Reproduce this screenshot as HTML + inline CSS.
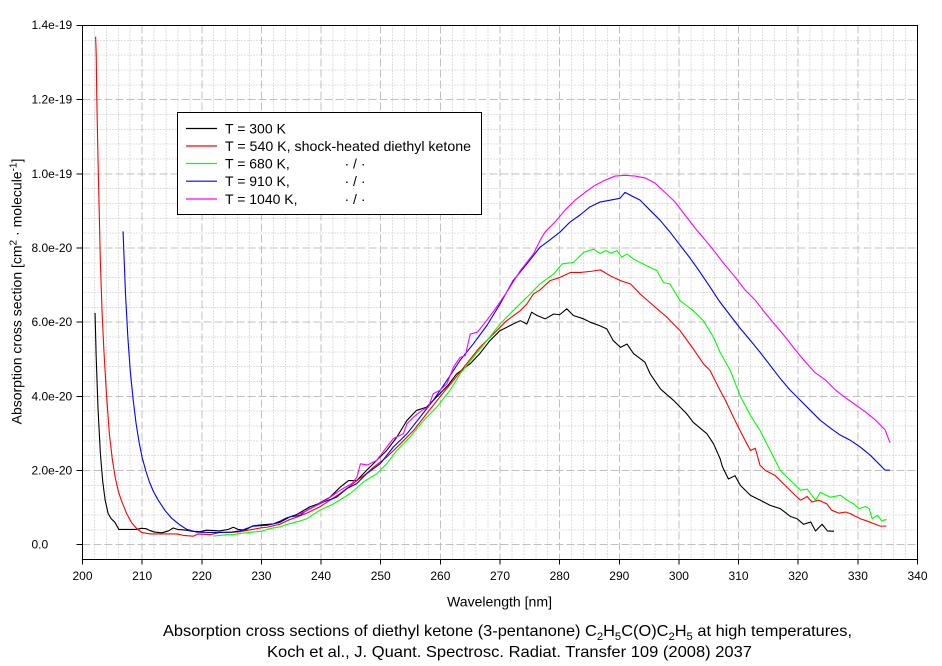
<!DOCTYPE html>
<html>
<head>
<meta charset="utf-8">
<style>
html,body{margin:0;padding:0;background:#fff;}
svg{display:block;}
text{font-family:"Liberation Sans",Arial,sans-serif;fill:#000;}
</style>
</head>
<body>
<svg width="942" height="666" viewBox="0 0 942 666" xmlns="http://www.w3.org/2000/svg">
<rect x="0" y="0" width="942" height="666" fill="#fff"/>

<!-- minor grid -->
<g stroke="#c0c0c0" stroke-width="1" fill="none" stroke-dasharray="1 2" shape-rendering="crispEdges">
<path d="M94.43 25.5V559.5M106.36 25.5V559.5M118.29 25.5V559.5M130.21 25.5V559.5M154.07 25.5V559.5M166 25.5V559.5M177.93 25.5V559.5M189.86 25.5V559.5M213.71 25.5V559.5M225.64 25.5V559.5M237.57 25.5V559.5M249.5 25.5V559.5M273.36 25.5V559.5M285.29 25.5V559.5M297.21 25.5V559.5M309.14 25.5V559.5M333 25.5V559.5M344.93 25.5V559.5M356.86 25.5V559.5M368.79 25.5V559.5M392.64 25.5V559.5M404.57 25.5V559.5M416.5 25.5V559.5M428.43 25.5V559.5M452.29 25.5V559.5M464.22 25.5V559.5M476.14 25.5V559.5M488.07 25.5V559.5M511.93 25.5V559.5M523.86 25.5V559.5M535.79 25.5V559.5M547.72 25.5V559.5M571.57 25.5V559.5M583.5 25.5V559.5M595.43 25.5V559.5M607.36 25.5V559.5M631.22 25.5V559.5M643.14 25.5V559.5M655.07 25.5V559.5M667 25.5V559.5M690.86 25.5V559.5M702.79 25.5V559.5M714.72 25.5V559.5M726.64 25.5V559.5M750.5 25.5V559.5M762.43 25.5V559.5M774.36 25.5V559.5M786.29 25.5V559.5M810.14 25.5V559.5M822.07 25.5V559.5M834 25.5V559.5M845.93 25.5V559.5M869.79 25.5V559.5M881.72 25.5V559.5M893.64 25.5V559.5M905.57 25.5V559.5"/>
<path d="M82.5 529.84H917.5M82.5 515H917.5M82.5 500.17H917.5M82.5 485.34H917.5M82.5 455.67H917.5M82.5 440.84H917.5M82.5 426H917.5M82.5 411.17H917.5M82.5 381.5H917.5M82.5 366.67H917.5M82.5 351.84H917.5M82.5 337H917.5M82.5 307.34H917.5M82.5 292.5H917.5M82.5 277.67H917.5M82.5 262.84H917.5M82.5 233.17H917.5M82.5 218.34H917.5M82.5 203.5H917.5M82.5 188.67H917.5M82.5 159H917.5M82.5 144.17H917.5M82.5 129.34H917.5M82.5 114.5H917.5M82.5 84.84H917.5M82.5 70H917.5M82.5 55.17H917.5M82.5 40.33H917.5"/>
</g>
<!-- major grid -->
<g stroke="#c0c0c0" stroke-width="1" fill="none" stroke-dasharray="8 3" shape-rendering="crispEdges">
<path d="M142.14 25.5V559.5M201.79 25.5V559.5M261.43 25.5V559.5M321.07 25.5V559.5M380.72 25.5V559.5M440.36 25.5V559.5M500 25.5V559.5M559.64 25.5V559.5M619.29 25.5V559.5M678.93 25.5V559.5M738.57 25.5V559.5M798.22 25.5V559.5M857.86 25.5V559.5"/>
<path d="M82.5 544.67H917.5M82.5 470.51H917.5M82.5 396.34H917.5M82.5 322.17H917.5M82.5 248H917.5M82.5 173.84H917.5M82.5 99.67H917.5"/>
</g>

<!-- data series -->
<g transform="translate(82.5 544.67) scale(5.9643 -37.083) translate(-200 0)" fill="none" stroke-width="1.1" stroke-linejoin="round">
<polyline vector-effect="non-scaling-stroke" stroke="#000000" points="202.1,6.25 202.3,5.04 202.6,3.67 203.0,2.45 203.4,1.69 203.8,1.2 204.3,0.84 204.8,0.7 205.4,0.61 206.1,0.41 207,0.41 208,0.41 209,0.41 209.8,0.44 210.7,0.43 211.3,0.38 212.1,0.34 213.3,0.32 214.4,0.37 215.2,0.45 216,0.41 217.4,0.39 218.5,0.36 219.7,0.35 220.8,0.39 222,0.38 223,0.37 224.4,0.41 225.3,0.47 226.1,0.41 227.2,0.39 228.6,0.51 230.3,0.54 232,0.56 233.1,0.63 234.2,0.72 235.9,0.81 238.1,1.02 239.5,1.1 241.5,1.28 243.2,1.55 244.6,1.73 246,1.73 247.6,2.0 249.3,2.27 251,2.54 252.7,2.9 254.4,3.35 256,3.62 257.7,3.71 259.9,4.07 261.3,4.3 262.7,4.6 265,4.88 266.6,5.15 268.3,5.5 270,5.77 272.2,5.95 273.4,6.04 274.5,5.95 275.3,6.27 276.2,6.18 277.6,6.09 279,6.22 280,6.2 281.2,6.36 282.3,6.18 284,6.09 285.1,6.0 286.8,5.9 287.9,5.82 289,5.5 290.2,5.32 291.3,5.41 292.4,5.15 294.3,4.92 295.2,4.6 296.9,4.2 299.1,3.89 301.3,3.53 302.4,3.3 304.7,2.99 305.8,2.72 306.9,2.32 307.3,2.1 308.3,1.77 309.4,1.86 310.3,1.6 312,1.33 313.6,1.2 315.3,1.06 317,0.97 318.7,0.76 319.8,0.7 320.9,0.55 322.1,0.61 322.9,0.37 324,0.55 324.9,0.37 326,0.36"/>
<polyline vector-effect="non-scaling-stroke" stroke="#ff0000" points="202.2,13.7 202.3,13.2 202.4,12.0 202.6,10.4 202.8,9.0 203.0,7.6 203.3,6.2 203.6,5.2 204.0,4.1 204.5,3.0 205.0,2.3 205.5,1.8 206.0,1.45 206.5,1.2 207.4,0.84 208.2,0.6 209,0.45 209.9,0.33 211.3,0.29 213,0.29 215.8,0.29 216.9,0.25 218.6,0.23 219.4,0.29 221.4,0.27 223,0.33 225,0.33 226.4,0.35 227.8,0.39 229.8,0.45 230.9,0.47 233.1,0.55 234.5,0.66 236.2,0.76 237.6,0.85 239.8,1.02 241.5,1.2 243.2,1.38 244.6,1.55 246,1.73 247.5,1.9 248.8,2.09 251,2.36 253.3,2.72 255.5,3.08 257.7,3.53 259.9,3.98 262.2,4.43 264.4,4.88 266.6,5.32 268.9,5.68 271.1,6.04 273.4,6.31 274.5,6.49 275.6,6.76 276.7,6.87 278.4,7.12 280.1,7.21 281.8,7.34 283.5,7.34 285.2,7.37 286.8,7.41 288.5,7.25 290.2,7.12 291.9,7.03 293.5,6.76 295.7,6.45 298,6.13 300.2,5.77 302.4,5.28 304.1,4.88 305.2,4.7 306.9,4.16 307.8,3.89 309.4,3.35 311.1,2.81 312,2.54 312.8,2.6 313.6,2.14 314.5,2.0 316.1,1.87 317.8,1.6 319.5,1.33 320.4,1.2 321.5,1.3 322.3,1.15 323.4,1.2 324.8,1.1 325.6,0.93 326.8,0.85 327.9,0.88 328.7,0.84 330.4,0.7 331.5,0.64 332.6,0.57 333.8,0.5 334.8,0.5"/>
<polyline vector-effect="non-scaling-stroke" stroke="#00ff00" points="221.9,0.23 223,0.25 224.2,0.27 225.3,0.27 226.4,0.3 227.5,0.32 228.6,0.34 230,0.36 230.9,0.41 232,0.45 233.1,0.48 234.8,0.57 236.5,0.64 237.6,0.7 239.8,0.93 242.1,1.1 244.9,1.38 247.1,1.69 249.3,1.91 251,2.18 252.7,2.54 254.9,2.9 257.2,3.35 259.4,3.71 261.6,4.16 263.3,4.6 265.5,5.05 267.8,5.5 270,5.95 272.2,6.31 274.5,6.67 276.7,7.03 279,7.3 280.4,7.57 282.3,7.61 284,7.88 285.7,7.97 286.8,7.85 287.7,7.93 288.6,7.86 289.6,7.93 290.4,7.75 291.3,7.84 292.4,7.7 294.6,7.52 296.3,7.39 297.4,7.07 298.5,7.03 300.2,6.58 302.4,6.31 304.1,6.04 305.8,5.59 306.9,5.19 308.6,4.7 310.3,4.0 312,3.48 313.6,3.08 315.3,2.54 317,2.0 318.7,1.73 320.4,1.47 321.5,1.5 322.9,1.2 323.7,1.41 325.4,1.28 327.1,1.33 328.2,1.2 329.3,1.1 330.2,0.97 331.3,1.03 331.9,0.97 332.4,0.7 333.3,0.79 334,0.64 334.8,0.68"/>
<polyline vector-effect="non-scaling-stroke" stroke="#0000ff" points="206.8,8.45 207.2,6.8 207.6,5.6 208.0,4.7 208.5,3.9 209.0,3.25 209.5,2.75 210.0,2.35 210.6,2.0 211.2,1.7 211.9,1.43 212.7,1.2 213.8,0.93 214.96,0.71 216.35,0.53 217.5,0.41 219.1,0.34 221,0.33 223,0.33 225,0.34 226.4,0.37 228.6,0.5 230.9,0.52 233.1,0.6 234.8,0.75 236.5,0.79 237.6,0.93 240.4,1.15 242.6,1.28 244.3,1.51 246,1.65 247.6,1.91 249.9,2.18 252.1,2.63 254.4,2.99 256.6,3.44 258.8,3.89 261.1,4.43 263.3,4.97 265.5,5.41 267.8,5.91 270,6.49 272.2,7.12 274.5,7.57 276.7,8.02 278.39,8.22 280.07,8.43 281.74,8.7 283.42,8.89 285.09,9.11 286.77,9.24 288.45,9.29 290.12,9.34 290.96,9.5 291.8,9.43 293.48,9.29 295.15,9.02 296.83,8.75 298.5,8.43 300.18,8.08 301.86,7.73 303.53,7.35 305.21,6.95 306.89,6.54 308.56,6.19 310.24,5.84 311.92,5.52 313.59,5.19 315.27,4.84 316.95,4.49 318.62,4.17 320.3,3.9 321.98,3.63 323.65,3.36 325.33,3.15 327.0,2.96 328.68,2.82 330.36,2.64 332.03,2.42 333.71,2.15 334.55,2.01 335.39,2.01"/>
<polyline vector-effect="non-scaling-stroke" stroke="#ff00ff" points="236,0.8 238,0.95 241,1.22 243.5,1.5 245.2,1.65 246,1.82 246.6,2.18 247.8,2.15 249.3,2.27 251,2.63 252.1,2.86 253.8,2.99 254.4,3.26 255.5,3.44 256.9,3.62 258,3.71 258.8,4.07 259.9,4.16 261.1,4.34 262.2,4.79 263.3,5.05 264.2,5.1 265,5.68 266.2,5.73 267.3,5.95 269,6.31 271.3,6.85 273.4,7.39 275.6,7.84 276.7,8.2 277.55,8.43 279.22,8.7 280.9,9.02 282.58,9.29 284.26,9.5 285.93,9.69 287.61,9.83 289.29,9.94 290.96,9.96 292.64,9.94 294.32,9.89 295.99,9.75 297.67,9.5 299.35,9.24 301.02,8.89 302.7,8.54 304.38,8.22 306.05,7.89 307.73,7.54 309.41,7.22 311.08,6.87 312.76,6.6 314.44,6.25 316.11,5.93 317.79,5.61 319.47,5.26 321.14,4.94 322.82,4.64 324.5,4.45 326.17,4.18 327.85,3.97 329.53,3.78 331.2,3.59 332.88,3.37 334.55,3.1 335.39,2.75"/>
</g>

<!-- axes frame -->
<rect x="82.5" y="25.5" width="835" height="534" fill="none" stroke="#000" stroke-width="1" shape-rendering="crispEdges"/>
<!-- ticks -->
<g stroke="#000" stroke-width="1" shape-rendering="crispEdges">
<path d="M76.5 544.67H82.5M76.5 470.51H82.5M76.5 396.34H82.5M76.5 322.17H82.5M76.5 248H82.5M76.5 173.84H82.5M76.5 99.67H82.5M76.5 25.5H82.5"/>
<path d="M82.5 559.5V564.5M142.14 559.5V564.5M201.79 559.5V564.5M261.43 559.5V564.5M321.07 559.5V564.5M380.72 559.5V564.5M440.36 559.5V564.5M500 559.5V564.5M559.64 559.5V564.5M619.29 559.5V564.5M678.93 559.5V564.5M738.57 559.5V564.5M798.22 559.5V564.5M857.86 559.5V564.5M917.5 559.5V564.5"/>
</g>

<!-- y tick labels -->
<g font-size="12">
<text x="31.5" y="29">1.4e-19</text>
<text x="31.5" y="103.5">1.2e-19</text>
<text x="31.5" y="177.8">1.0e-19</text>
<text x="31.5" y="252">8.0e-20</text>
<text x="31.5" y="326.2">6.0e-20</text>
<text x="31.5" y="400.3">4.0e-20</text>
<text x="31.5" y="474.5">2.0e-20</text>
<text x="31.5" y="548.7">0.0</text>
</g>
<!-- x tick labels -->
<g font-size="12" text-anchor="middle">
<text x="82.5" y="580">200</text>
<text x="142.14" y="580">210</text>
<text x="201.79" y="580">220</text>
<text x="261.43" y="580">230</text>
<text x="321.07" y="580">240</text>
<text x="380.72" y="580">250</text>
<text x="440.36" y="580">260</text>
<text x="500" y="580">270</text>
<text x="559.64" y="580">280</text>
<text x="619.29" y="580">290</text>
<text x="678.93" y="580">300</text>
<text x="738.57" y="580">310</text>
<text x="798.22" y="580">320</text>
<text x="857.86" y="580">330</text>
<text x="917.5" y="580">340</text>
</g>

<!-- axis titles -->
<text x="447" y="606.5" font-size="14" textLength="105" lengthAdjust="spacingAndGlyphs">Wavelength [nm]</text>
<text transform="translate(21.5 291.5) rotate(-90)" font-size="14" text-anchor="middle">Absorption cross section [cm<tspan dy="-5" font-size="10">2</tspan><tspan dy="5"> · molecule</tspan><tspan dy="-5" font-size="10">-1</tspan><tspan dy="5">]</tspan></text>

<!-- legend -->
<rect x="177.5" y="112.5" width="304" height="102" fill="#fff" stroke="#000" stroke-width="1" shape-rendering="crispEdges"/>
<g stroke-width="1.2">
<line x1="186" y1="128.5" x2="217" y2="128.5" stroke="#000000"/>
<line x1="186" y1="146" x2="217" y2="146" stroke="#ff0000"/>
<line x1="186" y1="163.5" x2="217" y2="163.5" stroke="#00ff00"/>
<line x1="186" y1="181.2" x2="217" y2="181.2" stroke="#0000ff"/>
<line x1="186" y1="199" x2="217" y2="199" stroke="#ff00ff"/>
</g>
<g font-size="14">
<text x="225" y="133.5">T = 300 K</text>
<text x="225" y="151" textLength="246" lengthAdjust="spacingAndGlyphs">T = 540 K, shock-heated diethyl ketone</text>
<text x="225" y="168.5">T = 680 K,</text>
<text x="225" y="186.2">T = 910 K,</text>
<text x="225" y="204">T = 1040 K,</text>
<text x="355" y="168.5" text-anchor="middle">· / ·</text>
<text x="355" y="186.2" text-anchor="middle">· / ·</text>
<text x="355" y="204" text-anchor="middle">· / ·</text>
</g>

<!-- caption -->
<text x="163" y="636" font-size="16" textLength="689" lengthAdjust="spacingAndGlyphs">Absorption cross sections of diethyl ketone (3-pentanone) C<tspan dy="4" font-size="11">2</tspan><tspan dy="-4">H</tspan><tspan dy="4" font-size="11">5</tspan><tspan dy="-4">C(O)C</tspan><tspan dy="4" font-size="11">2</tspan><tspan dy="-4">H</tspan><tspan dy="4" font-size="11">5</tspan><tspan dy="-4"> at high temperatures,</tspan></text>
<text x="267" y="657" font-size="16" textLength="485" lengthAdjust="spacingAndGlyphs">Koch et al., J. Quant. Spectrosc. Radiat. Transfer 109 (2008) 2037</text>
</svg>
</body>
</html>
